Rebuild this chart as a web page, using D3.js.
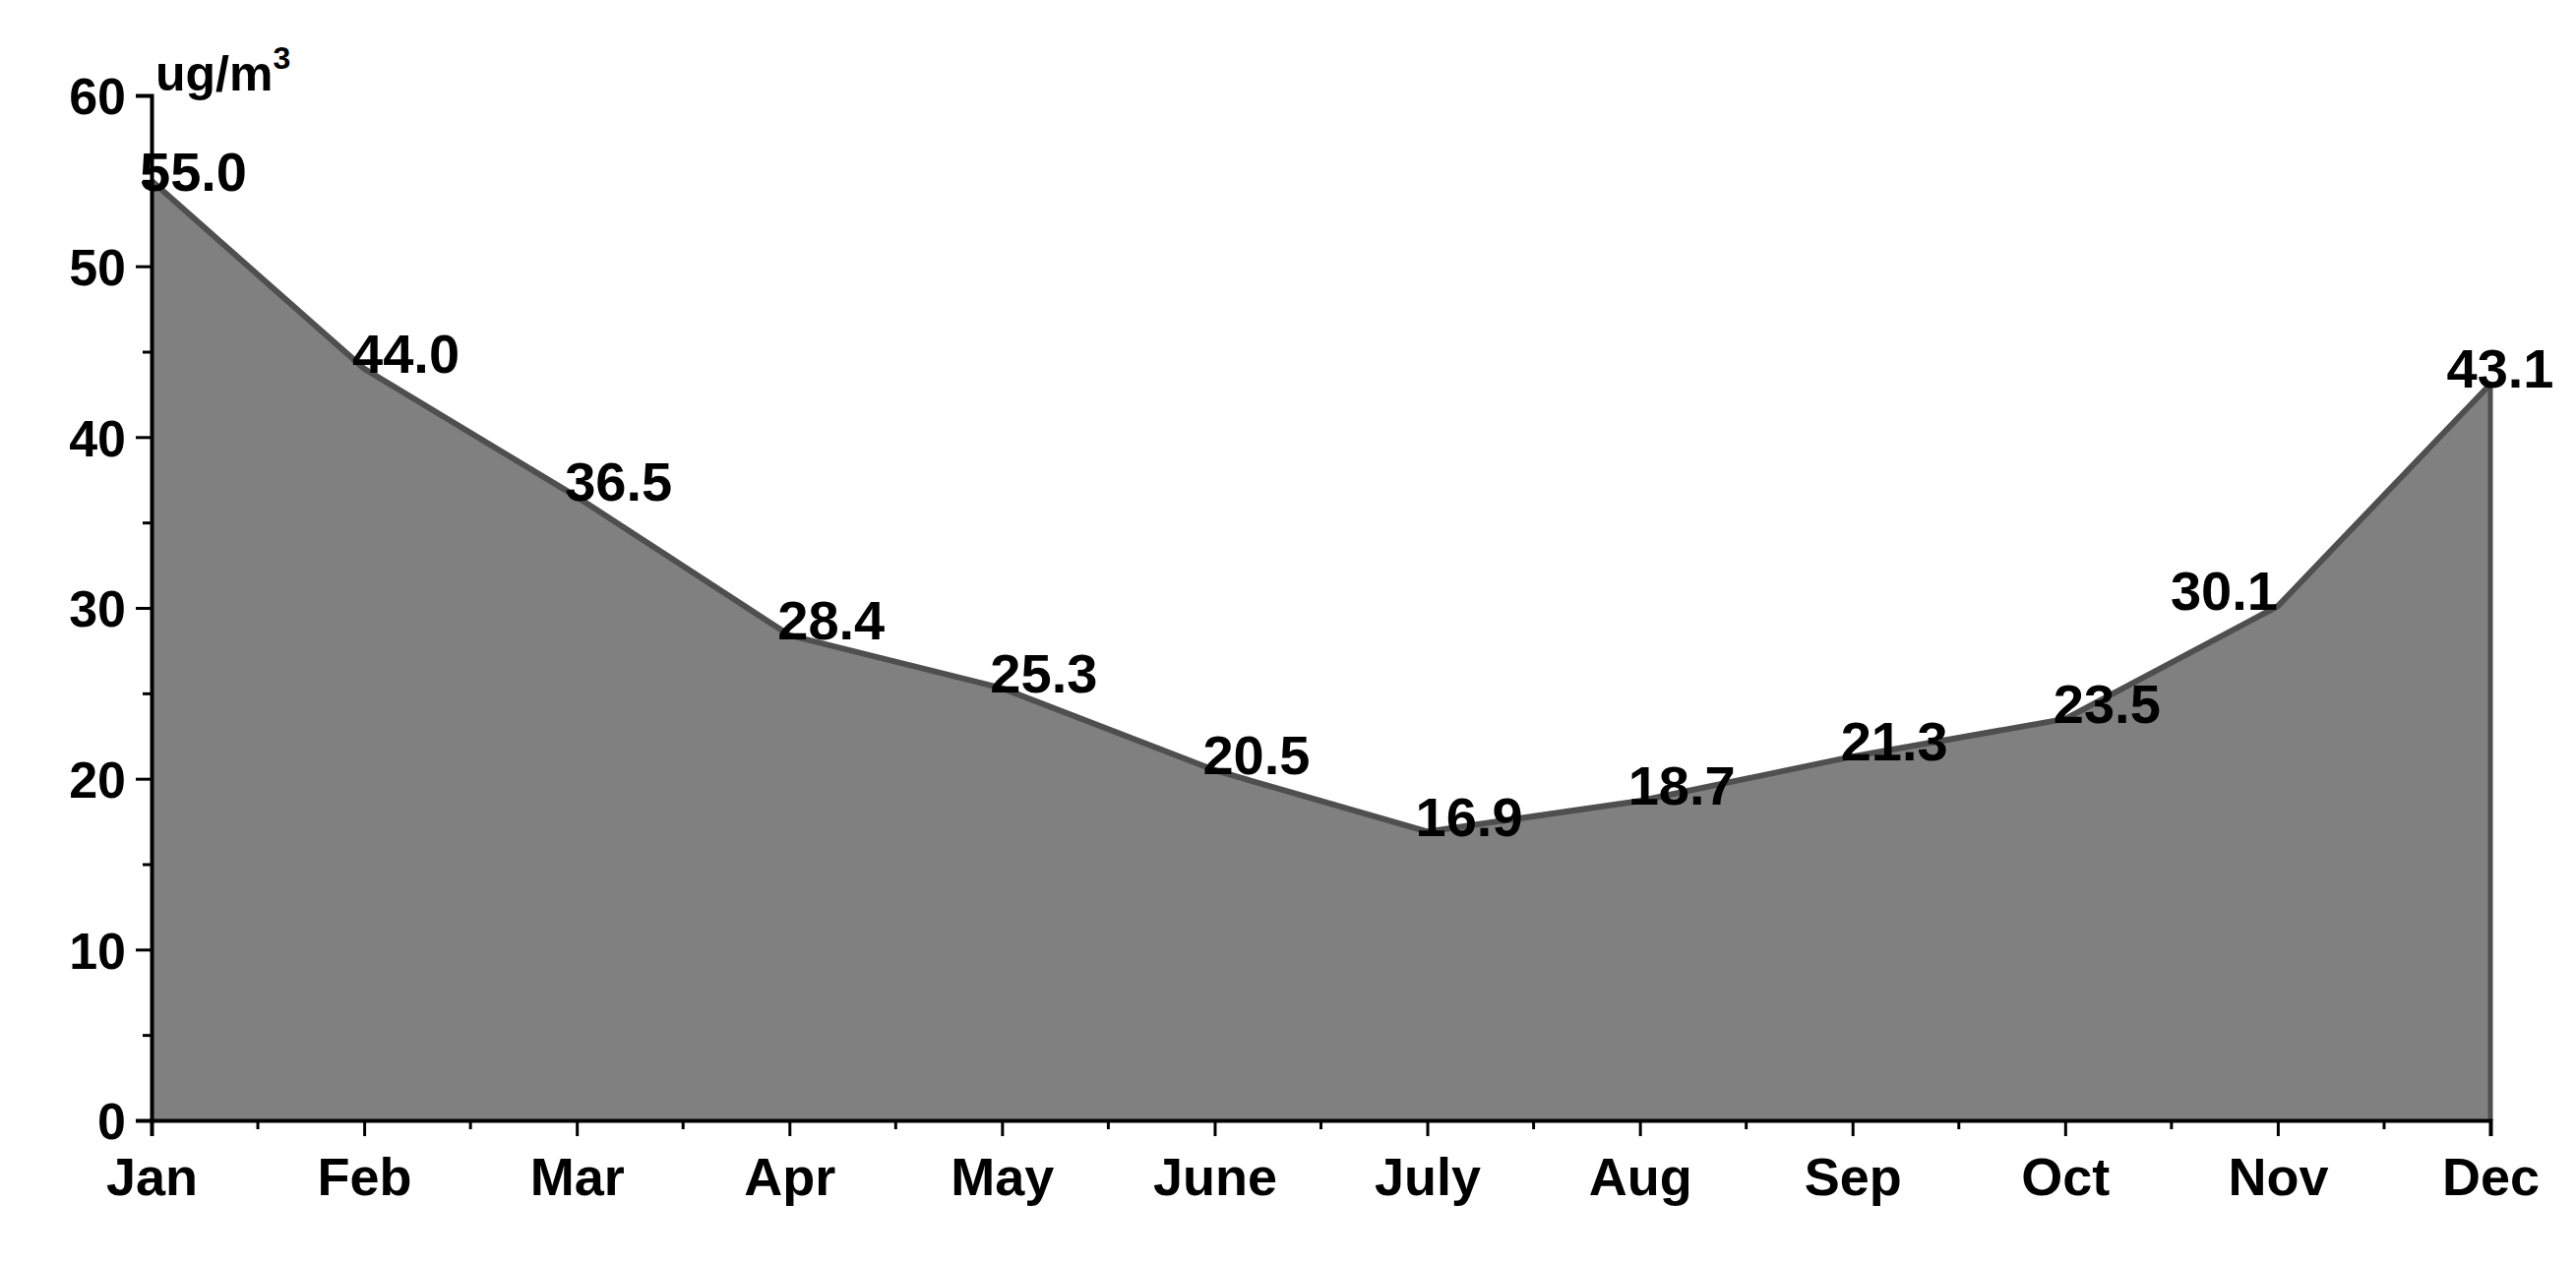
<!DOCTYPE html>
<html lang="en">
<head>
<meta charset="UTF-8">
<title>Monthly concentration</title>
<script src="https://d3js.org/d3.v7.min.js"></script>
<style>
  body { margin: 0; background: #fff; }
  text { font-family: "Liberation Sans", Arial, sans-serif; font-weight: bold; fill: #000; }
</style>
</head>
<body>
<div id="chart"></div>
<script>
const months = ["Jan","Feb","Mar","Apr","May","June","July","Aug","Sep","Oct","Nov","Dec"];
const values = [55.0, 44.0, 36.5, 28.4, 25.3, 20.5, 16.9, 18.7, 21.3, 23.5, 30.1, 43.1];
const yTicks = [0, 10, 20, 30, 40, 50, 60];

const W = 2618, H = 1284;
const margin = { left: 154, right: W - 2531, top: 97, bottom: H - 1139 };

const svg = d3.select("#chart").append("svg")
    .attr("width", W).attr("height", H);

const x = d3.scalePoint().domain(months).range([margin.left, W - margin.right]);
const y = d3.scaleLinear().domain([0, 60]).range([H - margin.bottom, margin.top]);

const data = months.map((m, i) => ({ m, v: values[i] }));

svg.append("path").datum(data)
    .attr("d", d3.area().x(d => x(d.m)).y0(y(0)).y1(d => y(d.v)))
    .attr("fill", "#808080");
svg.append("path").datum(data)
    .attr("d", d3.line().x(d => x(d.m)).y(d => y(d.v)))
    .attr("fill", "none").attr("stroke", "#4f4f4f").attr("stroke-width", 6);
// right edge of area
svg.append("line")
    .attr("x1", x("Dec")).attr("x2", x("Dec"))
    .attr("y1", y(values[11])).attr("y2", y(0))
    .attr("stroke", "#4f4f4f").attr("stroke-width", 5);

// y axis
const yAxis = svg.append("g").attr("transform", `translate(${margin.left},0)`)
    .call(d3.axisLeft(y).tickValues(yTicks).tickSize(16).tickPadding(10));
yAxis.selectAll("text").style("font-size", "52px").attr("dy", "0.36em");
svg.append("g").attr("transform", `translate(${margin.left},0)`)
    .call(d3.axisLeft(y).tickValues(d3.range(5, 60, 10)).tickSize(9).tickFormat(""))
    .select(".domain").remove();

// x axis
const xAxis = svg.append("g").attr("transform", `translate(0,${y(0)})`)
    .call(d3.axisBottom(x).tickSize(16).tickPadding(22));
xAxis.selectAll("text").style("font-size", "54px");
const step = x.step();
svg.append("g").attr("transform", `translate(0,${y(0)})`)
    .selectAll("line").data(months.slice(0, -1)).join("line")
    .attr("x1", d => x(d) + step / 2).attr("x2", d => x(d) + step / 2)
    .attr("y1", 0).attr("y2", 9).attr("stroke", "#000").attr("stroke-width", 3);

svg.selectAll(".domain").attr("stroke-width", 4).attr("stroke", "#000");
svg.selectAll(".tick line").attr("stroke-width", 3).attr("stroke", "#000");

// data labels
svg.append("g").selectAll("text").data(data).join("text")
    .attr("x", (d, i) => i === 10 ? x(d.m) : i === 11 ? x(d.m) + 10 : x(d.m) - 12)
    .attr("y", (d, i) => i === 0 ? y(d.v) + 10 : y(d.v) + 4)
    .attr("text-anchor", (d, i) => i === 10 ? "end" : i === 11 ? "middle" : "start")
    .style("font-size", "56px")
    .text(d => d.v.toFixed(1));

// unit label
const unit = svg.append("text").attr("x", margin.left + 4).attr("y", 92)
    .style("font-size", "50px");
unit.append("tspan").text("ug/m");
unit.append("tspan").attr("dy", -22).style("font-size", "32px").text("3");
</script>
</body>
</html>
